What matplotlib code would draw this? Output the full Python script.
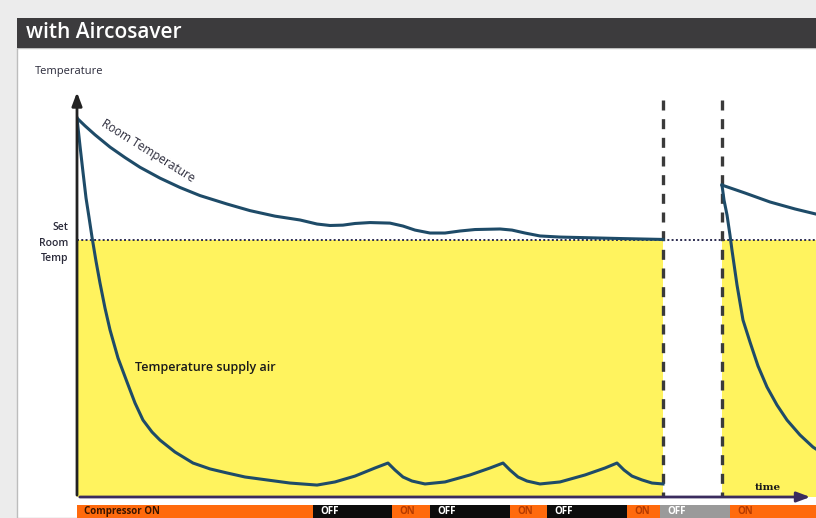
import numpy as np
import matplotlib.pyplot as plt
from matplotlib.patches import Rectangle

# datos (tiempo 0..100, temperatura con consigna = 20)
set_temp = 20.0
t_min, t_max = 6.0, 28.28
stop_times = [79.3, 87.3]

room_t = [0, 1.08, 2.44, 4.47, 6.50, 8.53, 11.23, 13.94, 16.64, 20.30, 23.41, 26.79, 30.18,
          32.48, 34.24, 35.99, 37.62, 39.65, 42.35, 44.11, 45.74, 47.77, 49.80, 51.83, 53.86,
          57.24, 58.86, 60.62, 62.65, 65.36, 68.47, 73.48, 79.30]
room_T = [26.64, 26.22, 25.73, 25.06, 24.49, 23.96, 23.37, 22.86, 22.42, 21.96, 21.60, 21.30, 21.09,
          20.87, 20.79, 20.81, 20.90, 20.95, 20.92, 20.76, 20.54, 20.38, 20.38, 20.49, 20.57,
          20.60, 20.54, 20.38, 20.22, 20.16, 20.13, 20.08, 20.03]
room2_t = [87.28, 90.39, 93.78, 97.16, 100.54]
room2_T = [22.99, 22.56, 22.07, 21.69, 21.36]

supply_t = [0, 0.41, 0.81, 1.22, 1.62, 2.03, 2.57, 3.11, 3.79, 4.47, 5.55, 6.77, 7.85, 8.93,
            10.15, 11.23, 13.26, 15.70, 18.00, 20.30, 22.73, 24.76, 28.82, 32.48,
            34.91, 37.62, 40.32, 42.08, 43.03, 44.11, 45.33, 47.09,
            49.80, 53.18, 55.89, 57.65, 58.59, 59.68, 60.89, 62.65,
            65.36, 68.74, 71.45, 73.07, 74.02, 75.10, 76.45, 77.81, 79.30]
supply_T = [26.64, 25.11, 23.70, 22.29, 21.25, 20.16, 18.85, 17.66, 16.29, 15.10, 13.57, 12.26, 11.12, 10.19,
            9.54, 9.10, 8.45, 7.85, 7.53, 7.31, 7.09, 6.98, 6.76, 6.65,
            6.82, 7.14, 7.58, 7.85, 7.47, 7.09, 6.87, 6.71,
            6.82, 7.20, 7.58, 7.85, 7.47, 7.09, 6.87, 6.71,
            6.82, 7.20, 7.58, 7.85, 7.47, 7.14, 6.93, 6.76, 6.71]
supply2_t = [87.28, 87.55, 87.96, 88.36, 88.63, 89.31, 90.12, 91.07, 92.15, 93.37, 94.72,
             96.08, 97.83, 99.59, 100.81]
supply2_T = [22.99, 22.18, 21.36, 20.27, 19.45, 17.55, 15.64, 14.44, 13.14, 11.99, 11.01,
             10.19, 9.38, 8.72, 8.40]

comp_start = [0, 31.9, 42.6, 47.8, 58.6, 63.6, 74.4, 78.9, 88.4]
comp_end = [31.9, 42.6, 47.8, 58.6, 63.6, 74.4, 78.9, 88.4, 100]
comp_state = ["ON", "OFF", "ON", "OFF", "ON", "OFF", "ON", "OFF", "ON"]

W, H = 816, 518
fig = plt.figure(figsize=(W / 100, H / 100), dpi=100)
fig.patch.set_facecolor("#ececec")

def fx(px):
    return px / W

def fy(py):
    return 1 - py / H

# panel blanco y barra de titulo
fig.patches.append(Rectangle((fx(17), 0), 1, fy(48), transform=fig.transFigure,
                             facecolor="white", edgecolor="#bdbdbd", lw=1, zorder=-10))
fig.patches.append(Rectangle((fx(17), fy(48)), 1, fy(18) - fy(48), transform=fig.transFigure,
                             facecolor="#3c3b3d", edgecolor="none", zorder=-10))
fig.text(fx(26), fy(33), "with Aircosaver", color="white", fontsize=15,
         family="Open Sans", weight="semibold", va="center", ha="left")
fig.text(fx(35), fy(71), "Temperature", color="#2a2a3a", fontsize=8,
         family="Open Sans", va="center", ha="left")
for txt, py in zip(["Set", "Room", "Temp"], [228, 243, 258]):
    fig.text(fx(68), fy(py), txt, color="#2a2a3a", fontsize=7.5,
             family="Open Sans", weight="semibold", va="center", ha="right")

ax = fig.add_axes([fx(77), fy(497), fx(816) - fx(77), fy(88) - fy(497)])
ax.set_xlim(0, 100)
ax.set_ylim(t_min, t_max)
ax.axis("off")

# zonas amarillas bajo la consigna
ax.fill_between([0, stop_times[0]], t_min, set_temp, color="#fff35e", lw=0, zorder=1)
ax.fill_between([stop_times[1], 101], t_min, set_temp, color="#fff35e", lw=0, zorder=1)

ax.plot([0, 101], [set_temp, set_temp], color="#2c2c50", lw=1.4, ls=(0, (1, 1.2)), zorder=3)
for st in stop_times:
    ax.plot([st, st], [27.6, t_min], color="#3a3a3a", lw=2.4, ls=(0, (3, 2.6)), zorder=4)

line_c = "#1e4b68"
ax.plot(room_t, room_T, color=line_c, lw=2.2, zorder=5, solid_joinstyle="round")
ax.plot(room2_t, room2_T, color=line_c, lw=2.2, zorder=5)
ax.plot(supply_t, supply_T, color=line_c, lw=2.2, zorder=5, solid_joinstyle="round")
ax.plot(supply2_t, supply2_T, color=line_c, lw=2.2, zorder=5, solid_joinstyle="round")

# ejes con flechas
ax.annotate("", xy=(0, 28.2), xytext=(0, t_min - 0.05), xycoords="data",
            arrowprops=dict(arrowstyle="-|>,head_length=0.8,head_width=0.3",
                            color="#222222", lw=2), annotation_clip=False, zorder=6)
ax.annotate("", xy=(99.6, t_min), xytext=(0, t_min), xycoords="data",
            arrowprops=dict(arrowstyle="-|>,head_length=0.8,head_width=0.3",
                            color="#3a2c5e", lw=2), annotation_clip=False, zorder=6)

ax.text(9.6, 24.85, "Room Temperature", rotation=-32, fontsize=8.5, color="#2a2a3a",
        family="Open Sans", ha="center", va="center", rotation_mode="anchor")
ax.text(7.9, 13.05, "Temperature supply air", fontsize=9, color="#1a1a1a",
        family="Open Sans", weight="semibold", ha="left", va="center")
ax.text(91.7, 6.5, "time", fontsize=7.5, color="#1a1a1a", family="DejaVu Serif",
        weight="bold", ha="left", va="center")

# barra del compresor
sx = fig.add_axes([fx(77), 0, fx(816) - fx(77), fy(505)])
sx.set_xlim(0, 100)
sx.set_ylim(0, 1)
sx.axis("off")
for a, b, s in zip(comp_start, comp_end, comp_state):
    if s == "OFF":
        fc = "#9a9a9a" if a > 75 else "#0c0c0c"
        tc = "white"
    else:
        fc = "#ff6a0d"
        tc = "#b33a00"
    sx.barh(0.5, b - a, left=a, height=1, color=fc, lw=0)
    label = "Compressor ON" if a == 0 else s
    if a == 0:
        tc = "#3a1500"
    sx.text(a + 1.0, 0.5, label, color=tc, fontsize=7, family="Open Sans",
            weight="bold", ha="left", va="center")

fig.savefig("out.png", dpi=100)
